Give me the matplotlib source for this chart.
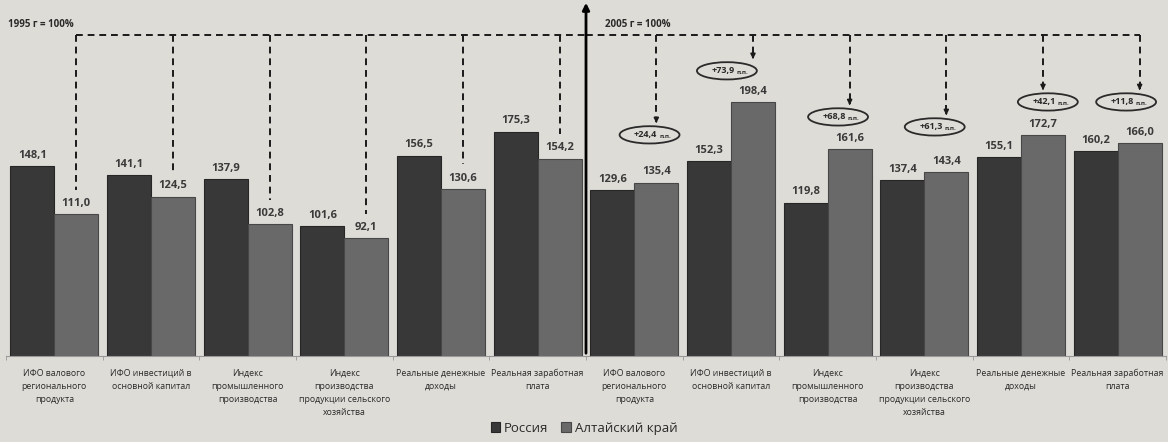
import matplotlib
matplotlib.use('Agg')
import matplotlib.pyplot as plt
from matplotlib.patches import Ellipse
import numpy as np

plt.rcParams['font.family'] = ['Open Sans', 'DejaVu Sans']

#%% данные
categories = ['ИФО валового\nрегионального\nпродукта', 'ИФО инвестиций в\nосновной капитал',
              'Индекс\nпромышленного\nпроизводства', 'Индекс\nпроизводства\nпродукции сельского\nхозяйства',
              'Реальные денежные\nдоходы', 'Реальная заработная\nплата']
labels = categories + categories
russia = [148.1, 141.1, 137.9, 101.6, 156.5, 175.3, 129.6, 152.3, 119.8, 137.4, 155.1, 160.2]
altai = [111.0, 124.5, 102.8, 92.1, 130.6, 154.2, 135.4, 198.4, 161.6, 143.4, 172.7, 166.0]
diff_2005 = ['+24,4', '+73,9', '+68,8', '+61,3', '+42,1', '+11,8']
series_names = ['Россия', 'Алтайский край']

# layout of the ellipse call-outs (offset in x, height above bars)
ell_dx = [-0.07, -0.27, -0.12, -0.12, 0.05, -0.14]
ell_y = [172.7, 222.7, 186.7, 178.9, 198.4, 198.4]

bg = '#dedcd7'
c_rus = '#383838'
c_alt = '#696969'

#%% рисунок
fig = plt.figure(figsize=(11.68, 4.42), dpi=100, facecolor=bg)
ax = fig.add_axes([6/1168, 86/442, 1160/1168, 356/442])
ax.set_facecolor(bg)
x = np.arange(len(labels))
w = 0.455
b1 = ax.bar(x - w/2, russia, w, color=c_rus, edgecolor='#262626', lw=0.8, label=series_names[0])
b2 = ax.bar(x + w/2, altai, w, color=c_alt, edgecolor='#474747', lw=0.8, label=series_names[1])

for bars, vals in ((b1, russia), (b2, altai)):
    for r, v in zip(bars, vals):
        ax.text(r.get_x() + r.get_width()/2, v + 4, f'{v:.1f}'.replace('.', ','),
                ha='center', va='bottom', fontsize=8, fontweight='bold', color='#3a3a3a')

ax.set_xlim(-0.5, 11.5)
ax.set_ylim(0, 278)
ax.set_xticks(x)
ax.set_xticklabels(labels, fontsize=6.3, color='#2a2a2a', linespacing=1.6)
ax.tick_params(axis='x', which='major', length=0, pad=9)
ax.set_xticks(np.arange(-0.5, 12, 1), minor=True)
ax.tick_params(axis='x', which='minor', length=3, color='#999999')
ax.set_yticks([])
for s in ['top', 'right', 'left']:
    ax.spines[s].set_visible(False)
ax.spines['bottom'].set_color('#999999')

# вертикальная разделительная ось
ax.annotate('', xy=(5.5, 278), xytext=(5.5, 0),
            arrowprops=dict(arrowstyle='-|>', color='black', lw=2, mutation_scale=10), annotation_clip=False)

# 1995 = 100%
top = 251
dash = dict(color='#1a1a1a', lw=1.4, linestyle=(0, (3.5, 2.5)))
ax.plot([x[0] + w/2, 5.5], [top, top], **dash)
for i in range(6):
    ax.plot([x[i] + w/2, x[i] + w/2], [top, altai[i] + 19], **dash)
ax.text(-0.48, 259, '1995 г = 100%', fontsize=7, fontweight='bold', color='#2a2a2a', va='center')

# 2005 = 100%
ax.plot([5.5, x[11] + w/2], [top, top], **dash)
ax.text(5.7, 259, '2005 г = 100%', fontsize=7, fontweight='bold', color='#2a2a2a', va='center')
for k in range(6):
    i = 6 + k
    xc = x[i] + w/2
    ax.plot([xc, xc], [top, ell_y[k] + 12], **dash)
    ax.annotate('', xy=(xc, ell_y[k] + 7), xytext=(xc, ell_y[k] + 13),
                arrowprops=dict(arrowstyle='-|>', color='#1a1a1a', lw=1.2, mutation_scale=7))
    ex = xc + ell_dx[k]
    ax.add_patch(Ellipse((ex, ell_y[k]), 0.62, 13.5, fill=False, edgecolor='#2a2a2a', lw=1.3))
    ax.text(ex + 0.08, ell_y[k], diff_2005[k], ha='right', va='center',
            fontsize=6.5, fontweight='bold', color='#2a2a2a')
    ax.text(ex + 0.1, ell_y[k] - 1, 'п.п.', ha='left', va='center',
            fontsize=4.5, fontweight='bold', color='#2a2a2a')

fig.legend(handles=[b1, b2], loc='lower center', bbox_to_anchor=(0.5, -0.01), ncol=2, frameon=False,
           fontsize=9.5, handlelength=0.7, handleheight=0.7, handletextpad=0.3, columnspacing=1.0,
           labelcolor='#2a2a2a')

fig.savefig('out.png', dpi=100, facecolor=bg)
